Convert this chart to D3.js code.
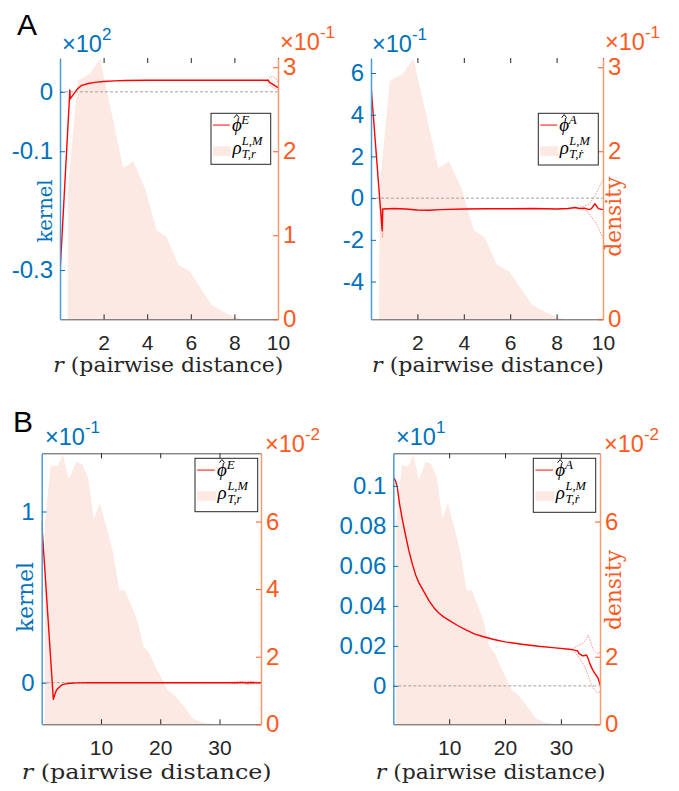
<!DOCTYPE html>
<html>
<head>
<meta charset="utf-8">
<script src="https://cdn.jsdelivr.net/npm/d3@7"></script>
<style>
  body { margin: 0; background: #fff; }
  svg { display: block; }
</style>
</head>
<body>
<svg id="fig" width="679" height="791"></svg>
<script>
// ---------------- data (real units) ----------------
// empirical pairwise-distance density, panel A (energy & alignment share it)
const densA_r = [0.35, 0.37, 0.81, 1.35, 1.83, 2.37, 2.9, 3.36, 3.93, 4.43, 4.89, 5.43, 5.96, 6.5, 6.96, 7.5, 7.95, 8.4, 10];
const densA_v = [0, 0.155, 0.284, 0.292, 0.310, 0.245, 0.180, 0.188, 0.154, 0.106, 0.098, 0.065, 0.057, 0.035, 0.017, 0.009, 0.003, 0, 0];

// empirical pairwise-distance density, panel B
const densB_r = [0.5, 0.55, 1.52, 2.65, 3.6, 4.6, 5.8, 6.8, 7.8, 8.8, 9.8, 10.9, 12, 13.1, 14, 15.1, 16.1, 17.2, 18.2, 19.3, 20.4, 21.2, 22.4, 23.8, 25.5, 26.9, 29, 37];
const densB_v = [0, 0.060, 0.0767, 0.0764, 0.0797, 0.0725, 0.0777, 0.0770, 0.0731, 0.0609, 0.0654, 0.0585, 0.0511, 0.0397, 0.0397, 0.0353, 0.0309, 0.0230, 0.0210, 0.0166, 0.0131, 0.0101, 0.0087, 0.0057, 0.0018, 0.0006, 0, 0];

// learned energy kernel, panel A
const kerAE_r = [0, 0.42, 0.45, 0.47, 0.6, 0.8, 1.0, 1.3, 1.6, 2.0, 2.5, 3, 4, 6, 8, 9.55, 9.62, 10];
const kerAE_v = [-30.6, -2.0, 0.3, -1.2, -0.5, 0.5, 1.1, 1.4, 1.6, 1.75, 1.85, 1.9, 1.95, 1.95, 1.95, 1.95, 1.6, 0.7];
const bandAE_r = [9.5, 9.6, 9.75, 9.9, 10];
const bandAE_hi = [1.95, 2.4, 2.6, 2.3, 1.6];
const bandAE_lo = [1.95, 1.3, 0.8, 0.5, 0.4];

// learned alignment kernel, panel A
const kerAA_r = [0, 0.48, 0.5, 0.52, 1, 1.5, 2, 2.5, 3, 4, 5, 6, 7, 8, 8.5, 8.8, 9, 9.2, 9.4, 9.5, 9.65, 9.8, 10];
const kerAA_v = [0.54, -0.155, -0.053, -0.052, -0.05, -0.052, -0.057, -0.058, -0.055, -0.052, -0.051, -0.051, -0.05, -0.052, -0.05, -0.045, -0.05, -0.048, -0.055, -0.05, -0.027, -0.05, -0.055];
const bandAA1_r = [0.46, 0.5, 0.54];
const bandAA1_lo = [-0.09, -0.19, -0.055];
const bandAA2_hi_r = [8.9, 9.4, 9.7, 10];
const bandAA2_hi = [-0.048, -0.03, 0.02, 0.09];
const bandAA2_lo_r = [9.0, 9.3, 9.7, 10];
const bandAA2_lo = [-0.05, -0.06, -0.12, -0.19];

// learned energy kernel, panel B
const kerBE_r = [0, 1.96, 2.2, 2.5, 3.0, 3.4, 4, 4.8, 6, 8, 33, 33.8, 34.6, 35.4, 36.2, 37];
const kerBE_v = [0.094, -0.0097, -0.007, -0.0043, -0.0025, -0.0013, -0.0007, -0.0003, -0.0001, 0, 0, 0.0002, -0.0002, 0.0001, -0.0001, 0];
const bandBE_r = [32, 33, 34, 35, 36, 37];
const bandBE_hi = [0.0002, 0.0006, 0.0004, 0.0008, 0.0005, 0.0002];
const bandBE_lo = [-0.0002, -0.0005, -0.0004, -0.0009, -0.0004, -0.0002];

// learned alignment kernel, panel B
const kerBA_r = [0, 0.4, 0.7, 1.1, 1.6, 2.2, 2.8, 3.4, 4.0, 4.6, 5.2, 6.4, 7.3, 8.2, 9, 10, 11.5, 13, 14.5, 16, 18, 20, 23, 26, 29, 31.5, 32.2, 33.0, 33.2, 33.9, 34.3, 34.6, 34.9, 35.2, 35.6, 36.0, 36.4, 36.7, 37.0];
const kerBA_v = [1.044, 1.025, 0.997, 0.913, 0.835, 0.752, 0.675, 0.61, 0.555, 0.515, 0.485, 0.425, 0.39, 0.363, 0.345, 0.328, 0.302, 0.28, 0.26, 0.247, 0.232, 0.22, 0.208, 0.198, 0.19, 0.183, 0.18, 0.175, 0.163, 0.15, 0.152, 0.155, 0.135, 0.11, 0.085, 0.065, 0.05, 0.035, 0.005];
const bandBA_hi_r = [32, 33, 33.8, 34.5, 34.9, 35.3, 35.8, 36.3, 36.8, 37];
const bandBA_hi = [0.185, 0.2, 0.21, 0.23, 0.255, 0.22, 0.18, 0.165, 0.16, 0.175];
const bandBA_lo_r = [32.5, 33.2, 34, 34.8, 35.4, 36, 36.6, 37];
const bandBA_lo = [0.17, 0.145, 0.11, 0.06, 0.01, -0.02, -0.035, -0.03];

// axis ticks (labels sitting under an axis title are left out)
const xTicksA = [2, 4, 6, 8, 10];
const xTicksB = [10, 20, 30];
const yTicksAE = [-30, -10, 0];
const yTicksAA = [-0.4, -0.2, 0, 0.2, 0.4, 0.6];
const yTicksBE = [0, 0.1];
const yTicksBA = [0, 0.2, 0.4, 0.6, 0.8, 1.0];
const rTicksAE = [0, 0.1, 0.2, 0.3];
const rTicksAA = [0, 0.2, 0.3];
const rTicksBE = [0, 0.02, 0.04, 0.06];
const rTicksBA = [0, 0.02, 0.06];

// ---------------- style ----------------
const BLUE = "#0072BD", BLUE_AX = "#4C9BD8";
const ORANGE = "#FF5A1E", ORANGE_AX = "#F89A72";
const PINK = "#FDE9E3";
const RED = "#FF0000";
const DARK = "#262626";
const SANS = "'Liberation Sans', Arial, Helvetica, sans-serif";
const SERIF = "'DejaVu Serif', serif";
const MATH = "'Liberation Serif', 'Times New Roman', serif";

const svg = d3.select("#fig");

function pairs(r, v) { return r.map((d, i) => [d, v[i]]); }
function fmtExp(e) { return v => String(Number((v / Math.pow(10, e)).toFixed(6))); }

function expLabel(x, y, sup, color) {
  const t = svg.append("text").attr("x", x).attr("y", y)
    .attr("font-family", SANS).attr("font-size", 23.5).attr("fill", color);
  t.append("tspan").text("\u00D710");
  t.append("tspan").attr("font-size", 17).attr("dy", -12).text(sup);
}

function legend(p) {
  const L = p.legend, s = L.w / 60;
  const g = svg.append("g").attr("transform", `translate(${L.x},${L.y})`);
  g.append("rect").attr("width", L.w).attr("height", L.h)
    .attr("fill", "#fff").attr("stroke", DARK).attr("stroke-width", 1);
  g.append("line").attr("x1", 2 * s).attr("x2", 19 * s).attr("y1", 11.8).attr("y2", 11.8)
    .attr("stroke", "#FF4040").attr("stroke-width", 1.3);
  g.append("text").attr("x", 21 * s).attr("y", 18).attr("font-family", MATH)
    .attr("font-style", "italic").attr("font-size", 19).text("\u03D5");
  g.append("path").attr("d", `M${23.3 * s},4.5 L${25.8 * s},1.2 L${28.3 * s},4.5`)
    .attr("fill", "none").attr("stroke", "#000").attr("stroke-width", 0.9);
  g.append("text").attr("x", 30.5 * s).attr("y", 11).attr("font-family", MATH)
    .attr("font-style", "italic").attr("font-size", 13).text(p.sym);
  g.append("rect").attr("x", 2 * s).attr("y", 33).attr("width", 18 * s).attr("height", 9.5)
    .attr("fill", PINK);
  g.append("text").attr("x", 21.5 * s).attr("y", 40.5).attr("font-family", MATH)
    .attr("font-style", "italic").attr("font-size", 19).text("\u03C1");
  g.append("text").attr("x", 31 * s).attr("y", 31.5).attr("font-family", MATH)
    .attr("font-style", "italic").attr("font-size", 12.5).text("L,M");
  g.append("text").attr("x", 31 * s).attr("y", 44.5).attr("font-family", MATH)
    .attr("font-style", "italic").attr("font-size", 12.5).text(p.sub);
}

function drawPanel(p, idx) {
  const x = d3.scaleLinear().domain(p.xDomain).range([p.left, p.right]);
  const yL = d3.scaleLinear().domain(p.yLDomain).range([p.bottom, p.top]);
  const yR = d3.scaleLinear().domain(p.yRDomain).range([p.bottom, p.top]);

  const clipId = "clip" + idx;
  svg.append("clipPath").attr("id", clipId).append("rect")
    .attr("x", p.left).attr("y", p.top - 1)
    .attr("width", p.right - p.left).attr("height", p.bottom - p.top + 2);
  const plot = svg.append("g").attr("clip-path", `url(#${clipId})`);

  // density (right axis)
  plot.append("path").datum(pairs(p.densR, p.densV))
    .attr("d", d3.area().x(d => x(d[0])).y0(yR(0)).y1(d => yR(d[1])))
    .attr("fill", PINK);

  // zero reference
  plot.append("line").attr("x1", p.left).attr("x2", p.right)
    .attr("y1", yL(0)).attr("y2", yL(0))
    .attr("stroke", "#8a8a8a").attr("stroke-width", 0.8).attr("stroke-dasharray", "3,2");

  // confidence band traces
  const ln = d3.line().x(d => x(d[0])).y(d => yL(d[1]));
  p.bands.forEach(b => {
    plot.append("path").datum(pairs(b[0], b[1])).attr("d", ln)
      .attr("fill", "none").attr("stroke", "#FF7A7A").attr("stroke-width", 0.8)
      .attr("stroke-dasharray", "1.5,1.2");
  });

  // kernel estimate
  plot.append("path").datum(pairs(p.kerR, p.kerV)).attr("d", ln)
    .attr("fill", "none").attr("stroke", RED).attr("stroke-width", 1.4)
    .attr("stroke-linejoin", "round");

  // x axis (bottom + top ticks)
  const gx = svg.append("g").attr("transform", `translate(0,${p.bottom})`)
    .call(d3.axisBottom(x).tickValues(p.xTicks).tickFormat(d3.format("d"))
      .tickSizeInner(-5).tickSizeOuter(0).tickPadding(16));
  gx.select(".domain").attr("stroke", DARK).attr("stroke-width", 0.8);
  gx.selectAll(".tick line").attr("stroke", DARK);
  gx.selectAll(".tick text").attr("fill", DARK).attr("font-family", SANS).attr("font-size", 21);

  const gt = svg.append("g").attr("transform", `translate(0,${p.top})`)
    .call(d3.axisTop(x).tickValues(p.xTicks).tickFormat("").tickSizeInner(-5).tickSizeOuter(0));
  gt.select(".domain").attr("stroke", p.topLine ? DARK : "none").attr("stroke-width", 0.8);
  gt.selectAll(".tick line").attr("stroke", DARK);

  // left axis
  const gl = svg.append("g").attr("transform", `translate(${p.left},0)`)
    .call(d3.axisLeft(yL).tickValues(p.yLTicks).tickFormat(fmtExp(p.yLExp))
      .tickSizeInner(-5).tickSizeOuter(0).tickPadding(7));
  gl.select(".domain").attr("stroke", BLUE_AX).attr("stroke-width", 1.5);
  gl.selectAll(".tick line").attr("stroke", BLUE);
  gl.selectAll(".tick text").attr("fill", BLUE).attr("font-family", SANS).attr("font-size", 24);

  // right axis
  const gr = svg.append("g").attr("transform", `translate(${p.right},0)`)
    .call(d3.axisRight(yR).tickValues(p.yRTicks).tickFormat(fmtExp(p.yRExp))
      .tickSizeInner(-5).tickSizeOuter(0).tickPadding(5));
  gr.select(".domain").attr("stroke", ORANGE_AX).attr("stroke-width", 1.5);
  gr.selectAll(".tick line").attr("stroke", ORANGE);
  gr.selectAll(".tick text").attr("fill", ORANGE).attr("font-family", SANS).attr("font-size", 24);

  // exponent labels
  expLabel(p.expL[0], p.expL[1], String(p.yLExp), BLUE);
  expLabel(p.expR[0], p.expR[1], String(p.yRExp), ORANGE);

  // x label
  const xl = svg.append("text").attr("x", p.xLab[0]).attr("y", p.xLab[1])
    .attr("text-anchor", "middle").attr("font-family", SERIF).attr("font-size", 21)
    .attr("fill", DARK).attr("textLength", p.xLab[2]).attr("lengthAdjust", "spacingAndGlyphs");
  xl.append("tspan").attr("font-style", "italic").text("r");
  xl.append("tspan").text(" (pairwise distance)");

  // y label
  if (p.yLab) {
    const [tx, ty, len, txt, col, fs] = p.yLab;
    svg.append("text").attr("transform", `translate(${tx},${ty}) rotate(-90)`)
      .attr("text-anchor", "middle").attr("font-family", SERIF).attr("font-size", fs)
      .attr("fill", col).attr("textLength", len).attr("lengthAdjust", "spacingAndGlyphs")
      .text(txt);
  }

  legend(p);
}

const panels = [
  { left: 60, right: 278, top: 58, bottom: 319.3, topLine: false,
    xDomain: [0, 10], xTicks: xTicksA,
    yLDomain: [-38.3, 5.7], yLTicks: yTicksAE, yLExp: 2,
    yRDomain: [0, 0.311], yRTicks: rTicksAE, yRExp: -1,
    densR: densA_r, densV: densA_v, kerR: kerAE_r, kerV: kerAE_v,
    bands: [[bandAE_r, bandAE_hi], [bandAE_r, bandAE_lo]],
    expL: [62, 52], expR: [280, 50],
    xLab: [168.3, 371.5, 230], yLab: [51.5, 211, 63, "kernel", BLUE, 20],
    legend: { x: 211, y: 113.3, w: 59.7, h: 51 }, sym: "E", sub: "T,r" },
  { left: 371, right: 603, top: 58, bottom: 319.3, topLine: false,
    xDomain: [0, 10], xTicks: xTicksA,
    yLDomain: [-0.581, 0.672], yLTicks: yTicksAA, yLExp: -1,
    yRDomain: [0, 0.311], yRTicks: rTicksAA, yRExp: -1,
    densR: densA_r, densV: densA_v, kerR: kerAA_r, kerV: kerAA_v,
    bands: [[bandAA1_r, bandAA1_lo], [bandAA2_hi_r, bandAA2_hi], [bandAA2_lo_r, bandAA2_lo]],
    expL: [372, 52], expR: [605, 50],
    xLab: [488, 371.5, 232], yLab: [621, 216.7, 80, "density", ORANGE, 22],
    legend: { x: 538.3, y: 113.3, w: 60, h: 51.7 }, sym: "A", sub: "T,\u1E59" },
  { left: 41.7, right: 261, top: 453.3, bottom: 724.3, topLine: true,
    xDomain: [0, 37], xTicks: xTicksB,
    yLDomain: [-0.0243, 0.134], yLTicks: yTicksBE, yLExp: -1,
    yRDomain: [0, 0.0802], yRTicks: rTicksBE, yRExp: -2,
    densR: densB_r, densV: densB_v, kerR: kerBE_r, kerV: kerBE_v,
    bands: [[bandBE_r, bandBE_hi], [bandBE_r, bandBE_lo]],
    expL: [45, 445], expR: [265, 451.7],
    xLab: [146.7, 779, 250], yLab: [33, 597, 70, "kernel", BLUE, 22],
    legend: { x: 195, y: 458.3, w: 62.7, h: 53.4 }, sym: "E", sub: "T,r" },
  { left: 393.3, right: 600, top: 453.3, bottom: 724.3, topLine: true,
    xDomain: [0, 37], xTicks: xTicksB,
    yLDomain: [-0.192, 1.163], yLTicks: yTicksBA, yLExp: 1,
    yRDomain: [0, 0.0802], yRTicks: rTicksBA, yRExp: -2,
    densR: densB_r, densV: densB_v, kerR: kerBA_r, kerV: kerBA_v,
    bands: [[bandBA_hi_r, bandBA_hi], [bandBA_lo_r, bandBA_lo]],
    expL: [396, 445], expR: [604, 451.7],
    xLab: [490.7, 779, 230], yLab: [621, 590, 80, "density", ORANGE, 22],
    legend: { x: 533.3, y: 458.3, w: 62.4, h: 54 }, sym: "A", sub: "T,\u1E59" }
];

panels.forEach(drawPanel);

// panel letters
svg.append("text").attr("x", 17).attr("y", 35).attr("font-family", SANS)
  .attr("font-size", 30).attr("fill", "#000").text("A");
svg.append("text").attr("x", 13).attr("y", 432).attr("font-family", SANS)
  .attr("font-size", 30).attr("fill", "#000").text("B");
</script>
</body>
</html>
